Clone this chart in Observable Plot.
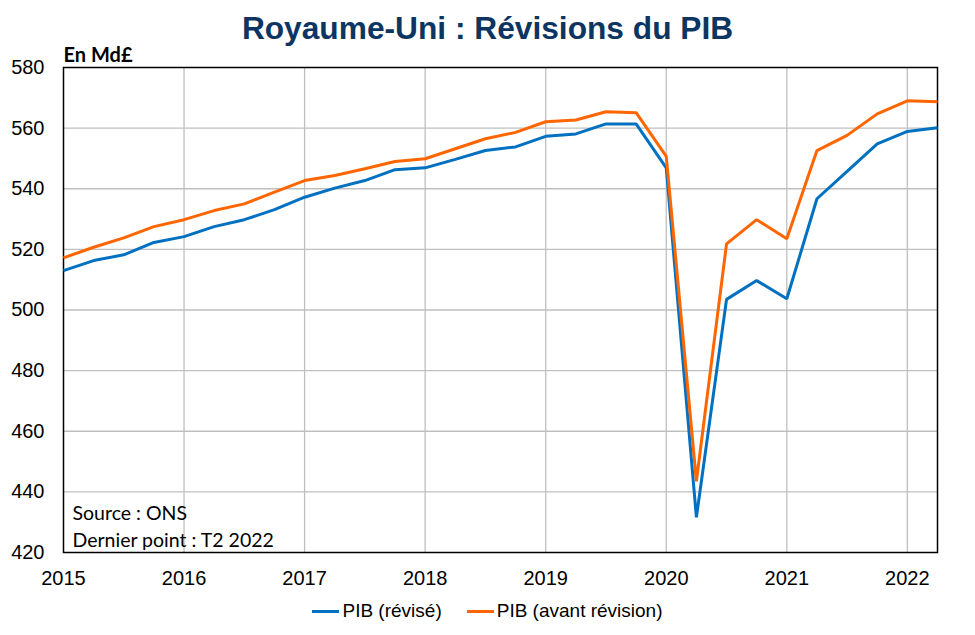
<!DOCTYPE html>
<html>
<head>
<meta charset="utf-8">
<script src="https://cdn.jsdelivr.net/npm/d3@7"></script>
<script src="https://cdn.jsdelivr.net/npm/@observablehq/plot@0.6"></script>
<style>
  html, body { margin: 0; padding: 0; background: #fff; }
  #wrap { position: relative; width: 975px; height: 635px; overflow: hidden; }
  #title { position: absolute; left: 0; top: 0; width: 975px; height: 50px;
    text-align: center; font-family: "Liberation Sans", Arial, sans-serif; font-weight: bold;
    font-size: 31.7px; line-height: 56px; color: #0D3562; white-space: nowrap; }
  #chart { position: absolute; left: 0; top: 50px; }
  #legend { position: absolute; left: 0; top: 598px; width: 975px; height: 26px;
    display: flex; justify-content: center; align-items: center;
    font-family: "Liberation Sans", Arial, sans-serif; font-size: 19px; color: #000; }
  .item { display: flex; align-items: center; }
  .sw { width: 27px; height: 3px; margin-right: 3px; }
</style>
</head>
<body>
<div id="wrap">
  <div id="title">Royaume-Uni : Révisions du PIB</div>
  <div id="chart"></div>
  <div id="legend"></div>
</div>
<script>
// ---- Data ----
const quarters = [
  "T1 2015","T2 2015","T3 2015","T4 2015",
  "T1 2016","T2 2016","T3 2016","T4 2016",
  "T1 2017","T2 2017","T3 2017","T4 2017",
  "T1 2018","T2 2018","T3 2018","T4 2018",
  "T1 2019","T2 2019","T3 2019","T4 2019",
  "T1 2020","T2 2020","T3 2020","T4 2020",
  "T1 2021","T2 2021","T3 2021","T4 2021",
  "T1 2022","T2 2022"
];
const pibRevise = [
  513.0, 516.3, 518.2, 522.3,
  524.2, 527.5, 529.8, 533.1,
  537.2, 540.2, 542.7, 546.3,
  546.9, 549.7, 552.6, 553.8,
  557.3, 558.1, 561.4, 561.4,
  546.9, 431.6, 503.5, 509.7,
  503.7, 536.7, 545.7, 554.8,
  558.9, 560.1
];
const pibAvant = [
  517.2, 520.7, 523.8, 527.5,
  529.8, 532.8, 535.0, 538.9,
  542.7, 544.4, 546.6, 549.0,
  549.9, 553.2, 556.5, 558.6,
  562.1, 562.7, 565.4, 565.1,
  550.7, 443.5, 521.8, 529.8,
  523.5, 552.6, 557.6, 564.7,
  569.0, 568.7
];
const seriesNames = ["PIB (révisé)", "PIB (avant révision)"];
const seriesColors = ["#0070C0", "#FF6600"];
const yearTicks = [2015, 2016, 2017, 2018, 2019, 2020, 2021, 2022];
const yTicks = [420, 440, 460, 480, 500, 520, 540, 560, 580];
const unitLabel = "En Md£";
const sourceNote = "Source : ONS\nDernier point : T2 2022";

// ---- Build table ----
function qToYear(q) {
  const [t, y] = q.split(" ");
  return +y + (+t.slice(1) - 1) / 4;
}
const rows = [];
quarters.forEach((q, i) => {
  rows.push({x: qToYear(q), v: pibRevise[i], s: seriesNames[0]});
  rows.push({x: qToYear(q), v: pibAvant[i], s: seriesNames[1]});
});

const font = "'Liberation Sans', Arial, sans-serif";
const noteFont = "Lato, 'Open Sans', sans-serif";
const chart = Plot.plot({
  width: 975,
  height: 542,
  marginTop: 17,
  marginBottom: 40,
  marginLeft: 63,
  marginRight: 38,
  style: {fontFamily: font, fontSize: "20px", color: "#000", background: "#fff", overflow: "visible"},
  x: {domain: [2015, 2022.25], ticks: yearTicks, tickFormat: d => String(d), tickSize: 0, tickPadding: 18, label: null},
  y: {domain: [420, 580], ticks: yTicks, tickSize: 0, tickPadding: 19, label: null},
  color: {domain: seriesNames, range: seriesColors},
  marks: [
    Plot.gridX(yearTicks.slice(1), {stroke: "#BFBFBF", strokeOpacity: 1, strokeWidth: 1.3}),
    Plot.gridY(yTicks.slice(1, -1), {stroke: "#BFBFBF", strokeOpacity: 1, strokeWidth: 1.3}),
    Plot.frame({stroke: "#000", strokeWidth: 1.5}),
    Plot.text([sourceNote], {frameAnchor: "bottom-left", textAnchor: "start", lineAnchor: "bottom",
      dx: 9, dy: -6, fontSize: 19.5, lineHeight: 1.36, fontFamily: noteFont, fill: "#000"}),
    Plot.text([unitLabel], {frameAnchor: "top-left", textAnchor: "start", lineAnchor: "bottom",
      dx: 0, dy: -6, fontSize: 20, fontWeight: "bold", fontFamily: noteFont, fill: "#000"}),
    Plot.line(rows, {x: "x", y: "v", z: "s", stroke: "s", strokeWidth: 3, strokeLinejoin: "miter", strokeLinecap: "butt"}),
    Plot.axisX({ticks: yearTicks, tickFormat: d => String(d), tickSize: 0, tickPadding: 18, fontSize: 20}),
    Plot.axisY({ticks: yTicks, tickSize: 0, tickPadding: 19, fontSize: 20})
  ]
});
document.getElementById("chart").appendChild(chart);

// ---- Legend ----
const legend = document.getElementById("legend");
seriesNames.forEach((name, i) => {
  const item = document.createElement("div");
  item.className = "item";
  if (i > 0) item.style.marginLeft = "25px";
  const sw = document.createElement("div");
  sw.className = "sw";
  sw.style.background = seriesColors[i];
  const lab = document.createElement("span");
  lab.textContent = name;
  item.appendChild(sw);
  item.appendChild(lab);
  legend.appendChild(item);
});
</script>
</body>
</html>
